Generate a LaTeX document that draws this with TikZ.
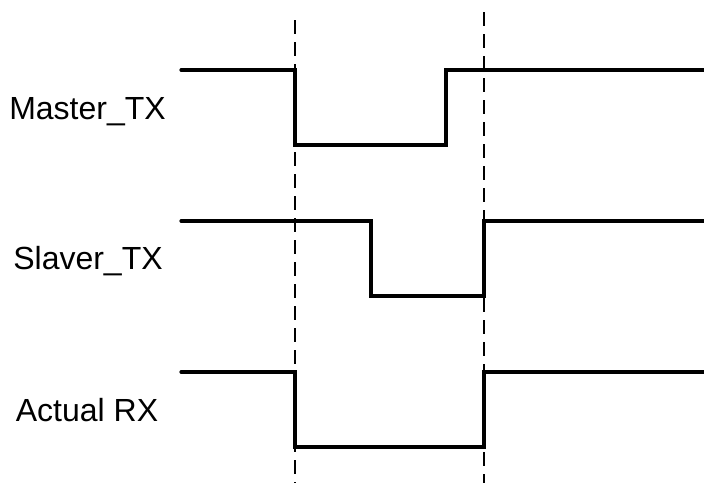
\documentclass[tikz,border=0pt]{standalone}
\usepackage{fontspec}
\setmainfont{Liberation Sans}
\begin{document}
\begin{tikzpicture}[x=1pt,y=-1pt,
  sig/.style={line width=3.2pt,line join=miter,line cap=round},
  guide/.style={line width=1.4pt,dash pattern=on 14pt off 8pt},
  lbl/.style={anchor=base,inner sep=0pt,font=\fontsize{32}{32}\selectfont}]
\useasboundingbox (0,0) rectangle (704,483);
% guides
\coordinate (g1t) at (295,20); \coordinate (g1b) at (295,483);
\coordinate (g2t) at (484,12); \coordinate (g2b) at (484,483);
\draw[guide] (g1t) -- (g1b);
\draw[guide] (g2t) -- (g2b);
% labels
\node[lbl] (m) at (87.5,119) {Master\_TX};
\node[lbl] (s) at (88,269) {Slaver\_TX};
\node[lbl] (a) at (87,421) {Actual RX};
% signals
\draw[sig] (181,70) -- (295,70) -- (295,145) -- (446,145) -- (446,70) -- (704,70);
\draw[sig] (181,221) -- (371,221) -- (371,296) -- (484,296) -- (484,221) -- (704,221);
\draw[sig] (181,372) -- (295,372) -- (295,447) -- (484,447) -- (484,372) -- (704,372);
\end{tikzpicture}
\end{document}
